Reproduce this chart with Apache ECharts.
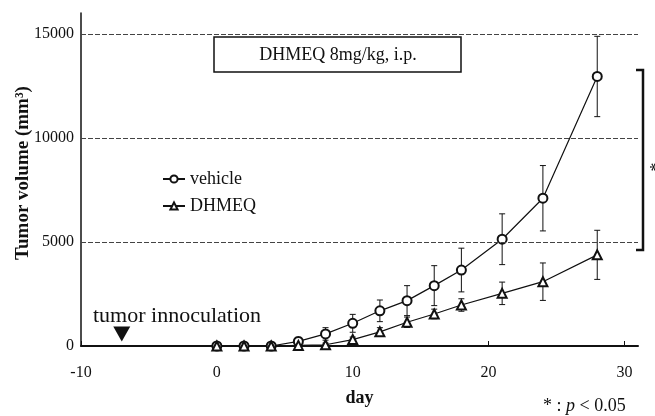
<!DOCTYPE html>
<html>
<head>
<meta charset="utf-8">
<script src="https://cdn.jsdelivr.net/npm/echarts@6/dist/echarts.min.js"></script>
<style>
  html, body { margin: 0; padding: 0; background: #fff; }
  #chart { width: 655px; height: 416px; }
</style>
</head>
<body>
<div id="chart"></div>
<script>
// days after start of treatment
const days = [0, 2, 4, 6, 8, 10, 12, 14, 16, 18, 21, 24, 28]
const vehicleMean = [0, 0, 0, 220, 580, 1090, 1690, 2180, 2900, 3650, 5130, 7100, 12950]
const vehicleSd = [40, 40, 40, 200, 300, 430, 520, 720, 960, 1050, 1220, 1570, 1930]
const dhmeqMean = [0, 0, 0, 30, 60, 310, 680, 1140, 1540, 1970, 2530, 3090, 4380]
const dhmeqSd = [40, 40, 40, 40, 80, 120, 200, 250, 230, 300, 540, 900, 1180]

const xTicks = [-10, 0, 10, 20, 30]
const yTicks = [0, 5000, 10000, 15000]
const gridValues = [5000, 10000, 15000]
const innoculationDay = -7

const serif = '"Liberation Serif", "DejaVu Serif", serif'

const chart = echarts.init(document.getElementById('chart'))

function pairs(mean) {
  return days.map((d, i) => [d, mean[i]])
}
function triples(mean, sd) {
  return days.map((d, i) => [d, mean[i], sd[i]])
}

function renderErrorBar(params, api) {
  const x = api.value(0)
  const m = api.value(1)
  const s = api.value(2)
  const top = api.coord([x, m + s])
  const bot = api.coord([x, m - s])
  const w = 3
  const style = { stroke: '#111', lineWidth: 1 }
  return {
    type: 'group',
    children: [
      { type: 'line', shape: { x1: top[0], y1: top[1], x2: bot[0], y2: bot[1] }, style },
      { type: 'line', shape: { x1: top[0] - w, y1: top[1], x2: top[0] + w, y2: top[1] }, style },
      { type: 'line', shape: { x1: bot[0] - w, y1: bot[1], x2: bot[0] + w, y2: bot[1] }, style }
    ]
  }
}

chart.setOption({
  animation: false,
  backgroundColor: '#fff',
  textStyle: { fontFamily: serif, color: '#111' },
  grid: { left: 81, right: 17, top: 13, bottom: 70 },
  legend: {
    data: ['vehicle', 'DHMEQ'],
    orient: 'vertical',
    left: 157,
    top: 165,
    itemWidth: 22,
    itemHeight: 9,
    itemGap: 9,
    textStyle: { fontFamily: serif, fontSize: 18, color: '#111' }
  },
  xAxis: {
    type: 'value',
    min: -10,
    max: 31,
    interval: 10,
    name: 'day',
    nameLocation: 'middle',
    nameGap: 43,
    nameTextStyle: { fontFamily: serif, fontSize: 18, fontWeight: 'bold', color: '#111' },
    axisLine: { onZero: false, lineStyle: { color: '#111', width: 2 } },
    axisTick: { inside: true, length: 5, customValues: xTicks, lineStyle: { color: '#111' } },
    axisLabel: { customValues: xTicks, margin: 19, fontFamily: serif, fontSize: 16, color: '#111' },
    splitLine: { show: false }
  },
  yAxis: {
    type: 'value',
    min: 0,
    max: 16000,
    interval: 5000,
    axisLine: { show: true, onZero: false, lineStyle: { color: '#111', width: 1.5 } },
    axisTick: { inside: true, length: 4, customValues: yTicks, lineStyle: { color: '#111' } },
    axisLabel: {
      customValues: yTicks,
      margin: 7,
      fontFamily: serif,
      fontSize: 16,
      color: '#111',
      formatter: v => String(v)
    },
    splitLine: { show: false }
  },
  series: [
    {
      name: 'vehicle',
      type: 'line',
      data: pairs(vehicleMean),
      symbol: 'emptyCircle',
      symbolSize: 9,
      itemStyle: { color: '#111', borderWidth: 1 },
      lineStyle: { color: '#111', width: 1.2 },
      z: 3,
      markLine: {
        silent: true,
        symbol: 'none',
        label: { show: false },
        lineStyle: { type: [5, 2], color: '#444', width: 1 },
        data: gridValues.map(v => ({ yAxis: v }))
      },
      markPoint: {
        silent: true,
        symbol: 'triangle',
        symbolRotate: 180,
        symbolSize: [17, 15],
        symbolOffset: [0, -12],
        itemStyle: { color: '#111' },
        label: { show: false },
        data: [{ coord: [innoculationDay, 0] }]
      }
    },
    {
      name: 'DHMEQ',
      type: 'line',
      data: pairs(dhmeqMean),
      symbol: 'emptyTriangle',
      symbolSize: 9,
      itemStyle: { color: '#111', borderWidth: 1 },
      lineStyle: { color: '#111', width: 1.2 },
      z: 3
    },
    {
      name: 'vehicle SD',
      type: 'custom',
      data: triples(vehicleMean, vehicleSd),
      renderItem: renderErrorBar,
      z: 2
    },
    {
      name: 'DHMEQ SD',
      type: 'custom',
      data: triples(dhmeqMean, dhmeqSd),
      renderItem: renderErrorBar,
      z: 2
    }
  ],
  graphic: [
    {
      type: 'text',
      x: 23,
      y: 173,
      rotation: Math.PI / 2,
      style: {
        text: 'Tumor volume (mm³)',
        fontFamily: serif,
        fontSize: 19,
        fontWeight: 'bold',
        fill: '#111',
        align: 'center',
        verticalAlign: 'middle'
      }
    },
    {
      type: 'rect',
      shape: { x: 214, y: 37, width: 247, height: 35 },
      style: { fill: '#fff', stroke: '#111', lineWidth: 1.5 },
      z: 10
    },
    {
      type: 'text',
      x: 338,
      y: 55,
      style: {
        text: 'DHMEQ 8mg/kg, i.p.',
        fontFamily: serif,
        fontSize: 18,
        fill: '#111',
        align: 'center',
        verticalAlign: 'middle'
      },
      z: 11
    },
    {
      type: 'text',
      x: 93,
      y: 316,
      style: {
        text: 'tumor innoculation',
        fontFamily: serif,
        fontSize: 22,
        fill: '#111',
        verticalAlign: 'middle'
      }
    },
    {
      type: 'polyline',
      shape: { points: [[636, 70], [643, 70], [643, 250], [636, 250]] },
      style: { stroke: '#111', lineWidth: 2.5, fill: null }
    },
    {
      type: 'text',
      x: 649,
      y: 167,
      rotation: -Math.PI / 2,
      style: {
        text: '*',
        fontFamily: serif,
        fontSize: 18,
        fill: '#111',
        align: 'center',
        verticalAlign: 'middle'
      }
    },
    {
      type: 'text',
      x: 543,
      y: 406,
      style: {
        text: '{n|* : }{i|p}{n| < 0.05}',
        verticalAlign: 'middle',
        rich: {
          n: { fontFamily: serif, fontSize: 18, fill: '#111' },
          i: { fontFamily: serif, fontSize: 18, fontStyle: 'italic', fill: '#111' }
        }
      }
    }
  ]
})
</script>
</body>
</html>
